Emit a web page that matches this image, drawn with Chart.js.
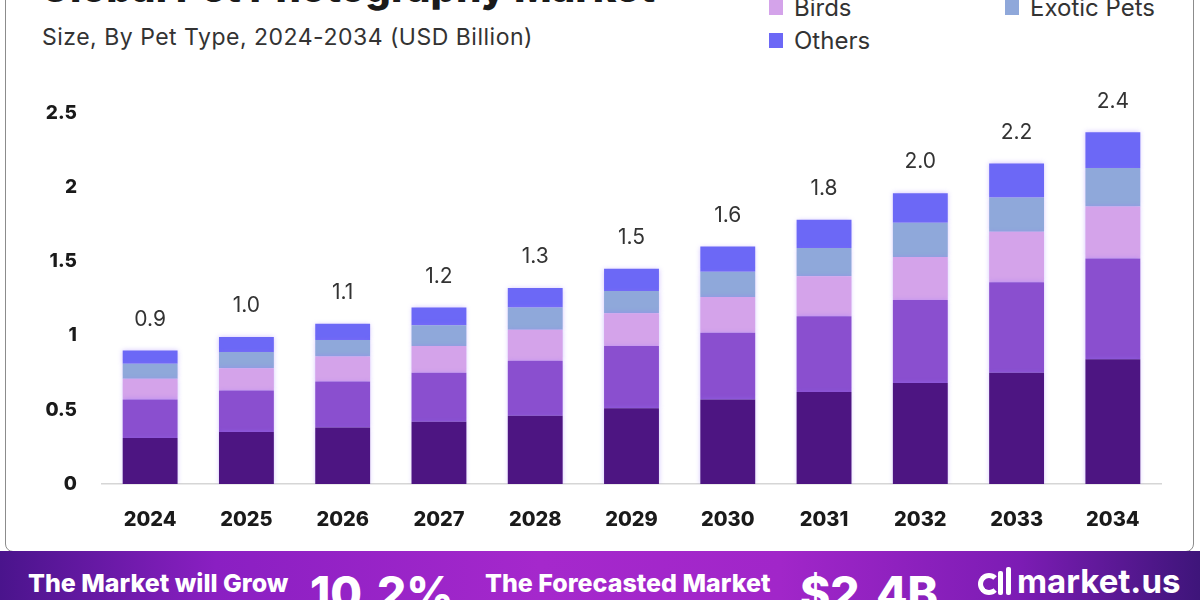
<!DOCTYPE html>
<html><head><meta charset="utf-8">
<script src="https://cdn.jsdelivr.net/npm/chart.js@4.4.0/dist/chart.umd.min.js"></script>
<style>
html,body{margin:0;padding:0;width:1200px;height:600px;overflow:hidden;background:#fff;font-family:Inter,"Open Sans",sans-serif;}
#frame{position:absolute;left:5px;top:-20px;width:1189px;height:572px;border:1.5px solid #8c8c8c;border-radius:8px;box-sizing:border-box;}
#title{position:absolute;left:40px;top:-37px;font:800 40px Inter;color:#1a1a1a;white-space:nowrap;}
#subtitle{position:absolute;left:42px;top:23px;font:23px Inter;letter-spacing:0.5px;color:#333;white-space:nowrap;}
.leg{position:absolute;font:24px Inter;color:#333;display:flex;align-items:center;white-space:nowrap;height:30px;}
.leg .sw{width:14px;height:15px;margin-right:11px;display:inline-block;}
#chartWrap{position:absolute;left:0;top:0;width:1200px;height:550px;}
#banner{position:absolute;left:0;top:551px;width:1200px;height:49px;background:linear-gradient(90deg,#4a148c 0%,#8a1fc2 18%,#a528cc 45%,#a126c9 65%,#7c1cb4 85%,#3e157a 100%);overflow:hidden;color:#fff;}
.bt{position:absolute;font:800 25px Inter;white-space:nowrap;}
.big{position:absolute;font:800 46px Inter;white-space:nowrap;}
</style></head>
<body>
<div id="frame"></div>
<div id="title">Global Pet Photography Market</div>
<div id="subtitle">Size, By Pet Type, 2024-2034 (USD Billion)</div>
<div id="legend"></div>
<div id="chartWrap"><canvas id="c" width="1200" height="550"></canvas></div>
<div id="banner">
  <div class="bt" style="left:28px;top:17px;">The Market will Grow</div>
  <div class="big" style="left:310px;top:14px;">10.2%</div>
  <div class="bt" style="left:485px;top:17px;">The Forecasted Market</div>
  <div class="big" style="left:800px;top:14px;">$2.4B</div>
  <div style="position:absolute;left:978px;top:22px;width:22px;height:22px;border:5px solid #fff;border-right-color:transparent;border-radius:50%;box-sizing:border-box;"></div>
  <div style="position:absolute;left:998px;top:20px;width:5px;height:24px;background:#fff;border-radius:2px;"></div>
  <div style="position:absolute;left:1006px;top:16px;width:5px;height:28px;background:#fff;border-radius:2px;"></div>
  <div class="bt" style="left:1017px;top:10px;font-size:33px;font-weight:700;">market.us</div>
</div>
<script>
const years = ['2024','2025','2026','2027','2028','2029','2030','2031','2032','2033','2034'];
const seriesNames = ['Dogs','Cats','Birds','Exotic Pets','Others'];
const seriesColors = ['#4d1582','#8a4fcf','#d4a3ea','#8fa8da','#6c68f6'];
const dogs   = [0.31,0.35,0.38,0.42,0.46,0.51,0.57,0.62,0.68,0.75,0.84];
const cats   = [0.26,0.28,0.31,0.33,0.37,0.42,0.45,0.51,0.56,0.61,0.68];
const birds  = [0.14,0.15,0.17,0.18,0.21,0.22,0.24,0.27,0.29,0.34,0.35];
const exotic = [0.10,0.11,0.11,0.14,0.15,0.15,0.17,0.19,0.23,0.23,0.26];
const others = [0.09,0.10,0.11,0.12,0.13,0.15,0.17,0.19,0.20,0.23,0.24];
const totalLabels = ['0.9','1.0','1.1','1.2','1.3','1.5','1.6','1.8','2.0','2.2','2.4'];
const yTickLabels = ['0','0.5','1','1.5','2','2.5'];
const seriesValues = [dogs,cats,birds,exotic,others];

// legend (2 columns, first row above the visible area)
const legendEl = document.getElementById('legend');
const legCols = [769,1005];
seriesNames.forEach((n,i)=>{
  const row = Math.floor(i/2), col = i%2;
  const d = document.createElement('div');
  d.className='leg';
  d.style.left = legCols[col]+'px';
  d.style.top = (-41 + row*33)+'px';
  d.innerHTML = '<span class="sw" style="background:'+seriesColors[i]+'"></span>'+n;
  legendEl.appendChild(d);
});

const shadowPlugin = {
  id:'shadow',
  beforeDatasetsDraw(chart){ const c=chart.ctx; c.save(); c.shadowColor='rgba(150,115,255,0.45)'; c.shadowBlur=5; },
  afterDatasetsDraw(chart){
    const c=chart.ctx; c.restore();
    const meta = chart.getDatasetMeta(chart.data.datasets.length-1);
    c.save();
    c.font='21px Inter'; c.fillStyle='#333'; c.textAlign='center'; c.textBaseline='middle';
    meta.data.forEach((b,i)=>{ c.fillText(totalLabels[i], b.x, b.y-31); });
    c.restore();
  }
};

new Chart(document.getElementById('c'),{
  type:'bar',
  data:{
    labels: years,
    datasets: seriesNames.map((n,i)=>({label:n,data:seriesValues[i],backgroundColor:seriesColors[i],borderWidth:0,categoryPercentage:1,barPercentage:0.57}))
  },
  options:{
    responsive:false, animation:false, devicePixelRatio:1,
    layout:{padding:{top:113,left:0,right:39,bottom:0}},
    plugins:{legend:{display:false},tooltip:{enabled:false}},
    scales:{
      x:{stacked:true,grid:{display:false,drawTicks:false},border:{display:true,color:'#d6d6d6',width:1.5},
         ticks:{font:{family:'Inter',size:20,weight:'800'},color:'#1a1a1a',padding:24},
         afterFit:s=>{s.height=66;}},
      y:{stacked:true,min:0,max:2.5,grid:{display:false,drawTicks:false},border:{display:false},
         ticks:{stepSize:0.5,font:{family:'Inter',size:19,weight:'800'},color:'#1a1a1a',padding:25,
           callback:(v,i)=>yTickLabels[i]},
         afterFit:s=>{s.width=102;}}
    }
  },
  plugins:[shadowPlugin]
});
</script>
</body></html>
